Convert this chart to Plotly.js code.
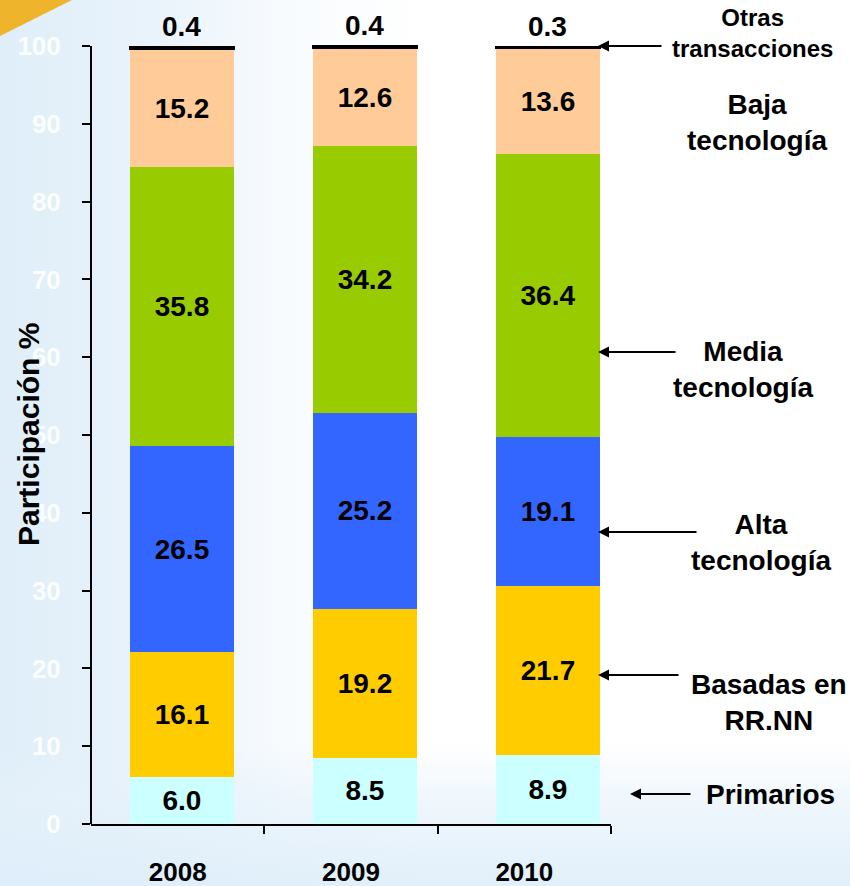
<!DOCTYPE html>
<html>
<head>
<meta charset="utf-8">
<script src="https://cdn.plot.ly/plotly-3.0.1.min.js"></script>
<style>
  html, body { margin: 0; padding: 0; }
  #chart {
    width: 850px; height: 886px;
    background:
      linear-gradient(to top, rgba(222,238,250,0.9) 0%, rgba(230,242,251,0.6) 10%, rgba(255,255,255,0) 16%),
      linear-gradient(to right, #DFEEF9 0%, #E9F3FB 18%, #F8FBFE 34%, #FFFFFF 50%, #FFFFFF 100%);
  }
</style>
</head>
<body>
<div id="chart"></div>
<script>
// ---- data ----
const years = ["2008", "2009", "2010"];
const primarios = [6.0, 8.5, 8.9];
const basadasRRNN = [16.1, 19.2, 21.7];
const altaTec = [26.5, 25.2, 19.1];
const mediaTec = [35.8, 34.2, 36.4];
const bajaTec = [15.2, 12.6, 13.6];
const otras = [0.4, 0.4, 0.3];
const yTicks = [0, 10, 20, 30, 40, 50, 60, 70, 80, 90, 100];

// ---- layout helpers ----
const W = 850, H = 886;
const PXU = 7.78;            // pixels per percentage point
const yTop = 100.4;          // axis top (leaves room for totals slightly over 100)
const L = 91, R = 239, B = 62;
const T = Math.round(46 - (yTop - 100) * PXU);
const plotW = W - L - R, plotH = H - T - B;
const px = x => (x - L) / plotW;
const py = y => (H - B - y) / plotH;

const xs = years.map((_, i) => i);
const xMin = -0.497, xMax = xMin + plotW / 183;
const step = (xMax - xMin) / years.length;
const bounds = years.map((_, i) => xMin + step * (i + 1));
const centers = years.map((_, i) => xMin + step * (i + 0.5));

const FONT = "Arial, 'Liberation Sans', sans-serif";
const txtFont = { family: FONT, size: 28, color: "#000", weight: "bold" };

function barTrace(name, vals, color, showText, lineW) {
  return {
    type: "bar", name: name, x: xs, y: vals,
    width: 0.57,
    marker: { color: color, line: { width: lineW || 0, color: color } },
    text: vals.map(v => v.toFixed(1)),
    textposition: showText === false ? "none" : "inside",
    insidetextanchor: "middle",
    textangle: 0,
    textfont: txtFont,
    insidetextfont: txtFont,
    cliponaxis: false,
    hoverinfo: "skip"
  };
}

const data = [
  barTrace("Primarios", primarios, "#CCFFFF"),
  barTrace("Basadas en RR.NN", basadasRRNN, "#FFCC00"),
  barTrace("Alta tecnología", altaTec, "#3366FF"),
  barTrace("Media tecnología", mediaTec, "#99CC00"),
  barTrace("Baja tecnología", bajaTec, "#FFCC99"),
  barTrace("Otras transacciones", otras, "#000000", false, 1)
];

// totals (top of each stack) for the "Otras" value labels
const totals = xs.map(i => primarios[i] + basadasRRNN[i] + altaTec[i] + mediaTec[i] + bajaTec[i] + otras[i]);

const labelFont = { family: FONT, size: 28, color: "#000", weight: "bold" };
function label(text, x, y, size) {
  return { text: text, xref: "paper", yref: "paper", x: px(x), y: py(y),
    xanchor: "center", yanchor: "middle", showarrow: false,
    font: Object.assign({}, labelFont, size ? { size: size } : {}) };
}
function arrow(xHead, xTail, y) {
  return { text: "", xref: "paper", yref: "paper", x: px(xHead), y: py(y),
    ax: xTail - xHead, ay: 0,
    showarrow: true, arrowhead: 2, arrowsize: 1.1, arrowwidth: 2,
    arrowcolor: "#000", standoff: 0, startstandoff: 0 };
}

const annotations = [
  label("Otras<br>transacciones", 752, 33, 24),
  arrow(598, 663, 46),
  label("Baja<br>tecnología", 757, 122),
  label("Media<br>tecnología", 743, 369),
  arrow(598, 677, 352),
  label("Alta<br>tecnología", 761, 542),
  arrow(598, 698, 532),
  label("Basadas en<br>RR.NN", 769, 702),
  arrow(598, 680, 675),
  label("Primarios", 770, 794),
  arrow(630, 692, 794),
  { text: "Participación %", xref: "paper", yref: "paper", x: px(28), y: py(435),
    xanchor: "center", yanchor: "middle", textangle: -90, showarrow: false,
    font: { family: FONT, size: 30, color: "#000", weight: "bold" } }
].concat(xs.map(i => ({
  text: otras[i].toFixed(1), xref: "x", yref: "y", x: i, y: totals[i],
  xanchor: "center", yanchor: "bottom", yshift: 2, showarrow: false,
  font: txtFont
})));

const layout = {
  width: W, height: H,
  margin: { l: L, r: R, t: T, b: B, pad: 0 },
  paper_bgcolor: "rgba(0,0,0,0)",
  plot_bgcolor: "rgba(0,0,0,0)",
  barmode: "stack",
  showlegend: false,
  font: { family: FONT },
  xaxis: {
    range: [xMin, xMax], fixedrange: true,
    showgrid: false, zeroline: false,
    showline: true, linecolor: "#000", linewidth: 2,
    tickvals: centers, ticktext: years, ticks: "",
    ticklabelstandoff: 24,
    tickfont: { family: FONT, size: 26, color: "#000", weight: "bold" },
    minor: { tickvals: bounds, ticks: "outside", ticklen: 8, tickwidth: 2, tickcolor: "#000", showgrid: false }
  },
  yaxis: {
    range: [0, yTop], fixedrange: true,
    tickvals: yTicks, ticks: "outside", ticklen: 8, tickwidth: 2, tickcolor: "#000",
    showgrid: false, zeroline: false,
    showline: false,
    ticklabelstandoff: 16,
    tickfont: { family: FONT, size: 26, color: "rgba(255,255,255,0.92)", weight: "bold" }
  },
  shapes: [
    { type: "path", xref: "paper", yref: "paper", layer: "below",
      path: `M ${px(0)},${py(0)} L ${px(72)},${py(0)} L ${px(0)},${py(36)} Z`,
      fillcolor: "#EDB42C", line: { width: 0 } },
    // y axis line from 0 to 100
    { type: "line", xref: "paper", yref: "y", x0: 0, x1: 0, y0: 0, y1: 100,
      line: { color: "#000", width: 2 } }
  ],
  annotations: annotations
};

Plotly.newPlot("chart", data, layout, { displayModeBar: false, staticPlot: true });
</script>
</body>
</html>
